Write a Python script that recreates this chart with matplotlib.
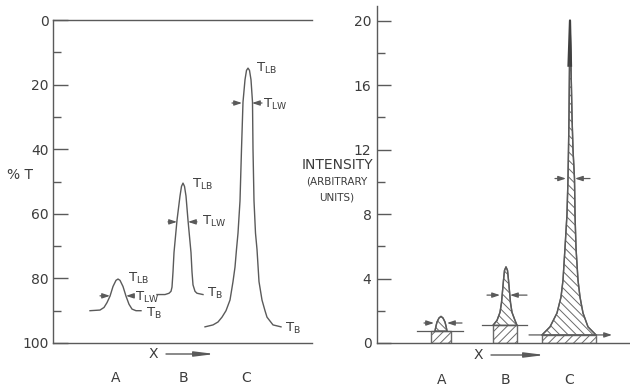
import numpy as np
import matplotlib.pyplot as plt

# left panel: %T traces (x in arbitrary units along the axis)
a_x = [37, 47, 51, 54, 57, 60, 63, 65, 67, 70, 73, 76, 79, 83, 88]
a_t = [90, 89.8, 89, 87.5, 85.5, 82.5, 80.6, 80.2, 80.6, 82.5, 85.5, 88, 89.5, 90, 90]
b_x = [104, 112, 116, 118, 119, 120, 121, 124, 127, 128.5, 130, 131.5, 133, 135, 138, 139, 140, 142, 144, 150]
b_t = [85, 85, 84.6, 84, 82.7, 78, 72, 62, 54.5, 51.5, 50.5, 51.5, 54.5, 62, 72, 78, 82, 84, 84.6, 85]
c_x = [152, 160, 165, 169, 173, 177, 180, 182, 183.5, 185, 187, 188.5, 190, 192, 193.5, 195,
       196.5, 198, 199.5, 200, 201, 202.5, 204, 206, 209, 212, 214, 220, 228]
c_t = [95, 94.4, 93.5, 92, 90, 86.7, 81, 76.5, 71, 66, 56, 40, 25.4, 18.5, 15.6, 14.9,
       15.6, 18.5, 25.4, 40, 56, 66, 71, 81, 86.7, 90, 92, 94.4, 95]

# right panel: intensity profiles (peak part) and base rectangles
ra_x = [58, 59, 60, 62, 64, 66, 68, 69, 70]
ra_i = [0.75, 1.05, 1.3, 1.55, 1.65, 1.55, 1.3, 1.05, 0.75]
rb_x = [116, 120, 123, 124.5, 125.5, 126.5, 127.5, 129, 130.5, 131.5, 132.5, 133.5, 135, 138, 140]
rb_i = [1.1, 1.4, 1.9, 2.5, 3.2, 3.9, 4.5, 4.72, 4.5, 3.9, 3.2, 2.5, 1.9, 1.4, 1.1]
rc_x = [165, 173, 180, 184, 186, 188, 190, 191, 191.5, 192, 192.5, 193,
        194, 195, 196, 197.5, 198, 199, 201, 203, 206, 211, 219]
rc_i = [0.5, 1.0, 1.86, 2.85, 3.9, 5.9, 8.0, 10.2, 12, 14.1, 17.2, 20.0,
        17.2, 14.1, 12, 10.2, 8.0, 5.9, 3.9, 2.85, 1.86, 1.0, 0.5]
base_left = [54, 116, 165]
base_right = [74, 140, 219]
base_height = [0.75, 1.1, 0.5]

peak_names = ['A', 'B', 'C']
left_yticks = [0, 20, 40, 60, 80, 100]
right_yticks = [0, 4, 8, 12, 16, 20]

W, H = 630, 387
line_c = '#5a5a5a'
text_c = '#3c3c3c'
plt.rcParams['font.family'] = ['DejaVu Sans']
plt.rcParams['hatch.linewidth'] = 0.7
plt.rcParams['hatch.color'] = '#707070'

fig = plt.figure(figsize=(W / 100, H / 100), dpi=100)

def ftext(x, y, s, **kw):
    kw.setdefault('color', text_c)
    kw.setdefault('va', 'center')
    fig.text(x / W, 1 - y / H, s, **kw)

def farrow(x0, x1, y):
    fig.add_artist(plt.Annotation('', xy=(x1 / W, 1 - y / H), xytext=(x0 / W, 1 - y / H),
                                  xycoords='figure fraction',
                                  arrowprops=dict(arrowstyle='-|>,head_length=1.2,head_width=0.15',
                                                  color=line_c, lw=1.0, shrinkA=0, shrinkB=0)))

def T(sub):
    return r'$\mathregular{T_{%s}}$' % sub

arw = dict(arrowstyle='-|>,head_length=0.45,head_width=0.15', color=line_c, lw=0.9,
           shrinkA=0, shrinkB=0)

# ---------------- left panel ----------------
ax1 = fig.add_axes([53 / W, 44 / H, 259 / W, 323 / H])
ax1.plot(a_x, a_t, color=line_c, lw=1.0)
ax1.plot(b_x, b_t, color=line_c, lw=1.0)
ax1.plot(c_x, c_t, color=line_c, lw=1.0)
ax1.set_xlim(0, 259)
ax1.set_ylim(100, 0)
ax1.set_yticks(left_yticks)
ax1.set_yticks(range(10, 100, 20), minor=True)
ax1.set_xticks([])
ax1.tick_params(axis='y', which='major', direction='in', length=11, width=1, colors=line_c,
                labelcolor=text_c, labelsize=10, pad=3)
ax1.tick_params(axis='y', which='minor', direction='in', length=6, width=1, colors=line_c)
ax1.spines['right'].set_visible(False)
for s in ['left', 'top', 'bottom']:
    ax1.spines[s].set_color(line_c)
    ax1.spines[s].set_linewidth(1.0)

# width markers
for (l0, l1, r0, r1, y) in [(179, 189, 209, 199, 25.7), (115, 124, 144, 135, 62.5), (47, 57, 81, 73, 85.4)]:
    ax1.annotate('', xy=(l1, y), xytext=(l0, y), arrowprops=arw)
    ax1.annotate('', xy=(r1, y), xytext=(r0, y), arrowprops=arw)

lab = dict(color=text_c, fontsize=9.5, va='center', ha='left')
ax1.text(203, 14.9, T('LB'), **lab)
ax1.text(210, 26.3, T('LW'), **lab)
ax1.text(139, 50.8, T('LB'), **lab)
ax1.text(149, 62.5, T('LW'), **lab)
ax1.text(154, 84.8, T('B'), **lab)
ax1.text(75, 79.9, T('LB'), **lab)
ax1.text(82, 85.8, T('LW'), **lab)
ax1.text(93, 90.7, T('B'), **lab)
ax1.text(232, 95.4, T('B'), **lab)

ftext(7, 175, '% T', fontsize=10)
ftext(153, 354, 'X', fontsize=10, ha='center')
farrow(166, 215, 354)
for name, x in zip(peak_names, [116, 183, 246]):
    ftext(x, 378, name, fontsize=10, ha='center')

# ---------------- right panel ----------------
ax2 = fig.add_axes([377 / W, 44 / H, 253 / W, 337 / H])
ax2.set_xlim(0, 253)
ax2.set_ylim(0, 20.9)
for l, r, h in zip(base_left, base_right, base_height):
    ax2.fill_between([l, r], 0, h, facecolor='white', edgecolor='#6a6a6a', hatch='////', lw=1.0)
for xs, ys in [(ra_x, ra_i), (rb_x, rb_i), (rc_x, rc_i)]:
    ax2.fill_between(xs, ys[0], ys, facecolor='white', edgecolor='#6a6a6a', hatch='\\\\\\\\', lw=1.0)
    ax2.plot(xs, ys, color=line_c, lw=1.0)
ax2.plot([191.5, 193, 194], [17.2, 20.0, 17.2], color='#404040', lw=1.6)

# baselines through the rectangle tops
ax2.plot([40, 86], [0.75, 0.75], color=line_c, lw=0.9)
ax2.plot([105, 150], [1.1, 1.1], color=line_c, lw=0.9)
ax2.annotate('', xy=(235, 0.5), xytext=(152, 0.5), arrowprops=arw)

for (l0, l1, r0, r1, y) in [(47, 57, 85, 70, 1.24), (110, 123, 150, 133, 2.97), (178, 189, 213, 198, 10.2)]:
    ax2.annotate('', xy=(l1, y), xytext=(l0, y), arrowprops=arw)
    ax2.annotate('', xy=(r1, y), xytext=(r0, y), arrowprops=arw)

ax2.set_yticks(right_yticks)
ax2.set_yticks(range(2, 20, 4), minor=True)
ax2.set_xticks([])
ax2.tick_params(axis='y', which='major', direction='in', length=10, width=1, colors=line_c,
                labelcolor=text_c, labelsize=10, pad=4)
ax2.tick_params(axis='y', which='minor', direction='in', length=6, width=1, colors=line_c)
ax2.spines['right'].set_visible(False)
ax2.spines['top'].set_visible(False)
for s in ['left', 'bottom']:
    ax2.spines[s].set_color(line_c)
    ax2.spines[s].set_linewidth(1.0)

ftext(337, 165, 'INTENSITY', fontsize=10, ha='center')
ftext(337, 182, '(ARBITRARY', fontsize=7.5, ha='center')
ftext(337, 197, 'UNITS)', fontsize=7.5, ha='center')
ftext(478, 355, 'X', fontsize=10, ha='center')
farrow(491, 545, 355)
for name, x in zip(peak_names, [442, 505, 569]):
    ftext(x, 380, name, fontsize=10, ha='center')

fig.savefig('out.png', dpi=100)
